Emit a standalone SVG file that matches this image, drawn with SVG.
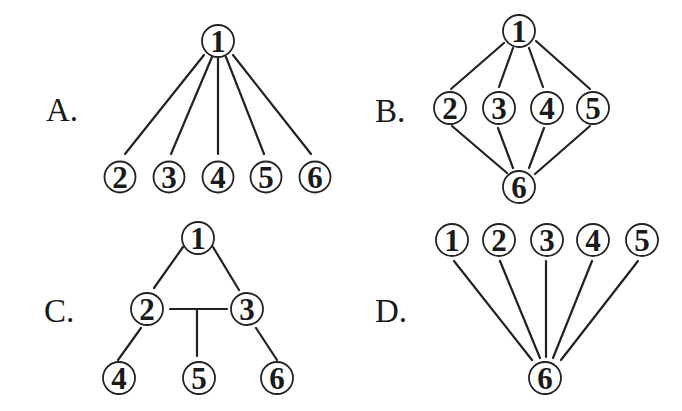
<svg xmlns="http://www.w3.org/2000/svg" width="682" height="411" viewBox="0 0 682 411">
<style>
.n circle{fill:#fff;stroke:#222;stroke-width:1.8}
.n text{font-family:"Liberation Serif","DejaVu Serif",serif;font-size:31px;font-weight:bold;fill:#1a1a1a;text-anchor:middle}
.lbl{font-family:"Liberation Serif","DejaVu Serif",serif;font-size:33px;fill:#1a1a1a}
.e line{stroke:#222;stroke-width:2.2;stroke-linecap:round}
</style>
<rect width="682" height="411" fill="#fff"/>
<text class="lbl" x="46" y="121">A.</text>
<text class="lbl" x="375" y="122">B.</text>
<text class="lbl" x="44" y="322">C.</text>
<text class="lbl" x="375" y="322">D.</text>

<g id="edges" class="e">
<!-- A -->
<line x1="204" y1="55" x2="125" y2="154"/>
<line x1="212" y1="57" x2="171" y2="154"/>
<line x1="218" y1="58" x2="218" y2="154"/>
<line x1="226" y1="57" x2="264" y2="154"/>
<line x1="233" y1="55" x2="311" y2="154"/>
<!-- B -->
<line x1="504" y1="43" x2="451" y2="89"/>
<line x1="513" y1="48" x2="499" y2="87"/>
<line x1="529" y1="48" x2="543" y2="87"/>
<line x1="536" y1="41" x2="590" y2="89"/>
<line x1="452" y1="126" x2="507" y2="173"/>
<line x1="498" y1="128" x2="513" y2="168"/>
<line x1="544" y1="128" x2="529" y2="168"/>
<line x1="590" y1="126" x2="535" y2="174"/>
<!-- C -->
<line x1="183" y1="247" x2="154" y2="288"/>
<line x1="213" y1="247" x2="239" y2="290"/>
<line x1="170" y1="309" x2="227" y2="309"/>
<line x1="197" y1="309" x2="197" y2="356"/>
<line x1="141" y1="328" x2="118" y2="360"/>
<line x1="256" y1="328" x2="277" y2="360"/>
<!-- D -->
<line x1="454" y1="261" x2="532" y2="360"/>
<line x1="500" y1="261" x2="540" y2="358"/>
<line x1="546" y1="261" x2="546" y2="357"/>
<line x1="592" y1="261" x2="553" y2="358"/>
<line x1="638" y1="261" x2="561" y2="360"/>
</g>

<!-- Panel A -->
<g id="A1" class="n"><circle cx="218" cy="41" r="16"/><text x="218" y="52">1</text></g>
<g id="A2" class="n"><circle cx="120" cy="177" r="15.5"/><text x="120" y="188">2</text></g>
<g id="A3" class="n"><circle cx="169" cy="177" r="15.5"/><text x="169" y="188">3</text></g>
<g id="A4" class="n"><circle cx="218" cy="177" r="15.5"/><text x="218" y="188">4</text></g>
<g id="A5" class="n"><circle cx="266" cy="177" r="15.5"/><text x="266" y="188">5</text></g>
<g id="A6" class="n"><circle cx="315" cy="177" r="15.5"/><text x="315" y="188">6</text></g>

<!-- Panel B -->
<g id="B1" class="n"><circle cx="519" cy="31" r="16"/><text x="519" y="42">1</text></g>
<g id="B2" class="n"><circle cx="450" cy="108" r="16"/><text x="450" y="119">2</text></g>
<g id="B3" class="n"><circle cx="499" cy="108" r="16"/><text x="499" y="119">3</text></g>
<g id="B4" class="n"><circle cx="547" cy="108" r="16"/><text x="547" y="119">4</text></g>
<g id="B5" class="n"><circle cx="593" cy="108" r="16"/><text x="593" y="119">5</text></g>
<g id="B6" class="n"><circle cx="519" cy="187" r="16"/><text x="519" y="198">6</text></g>

<!-- Panel C -->
<g id="C1" class="n"><circle cx="198" cy="238" r="16"/><text x="198" y="249">1</text></g>
<g id="C2" class="n"><circle cx="147" cy="309" r="16"/><text x="147" y="320">2</text></g>
<g id="C3" class="n"><circle cx="247" cy="309" r="16"/><text x="247" y="320">3</text></g>
<g id="C4" class="n"><circle cx="119" cy="378" r="16"/><text x="119" y="389">4</text></g>
<g id="C5" class="n"><circle cx="199" cy="378" r="16"/><text x="199" y="389">5</text></g>
<g id="C6" class="n"><circle cx="277" cy="378" r="16"/><text x="277" y="389">6</text></g>

<!-- Panel D -->
<g id="D1" class="n"><circle cx="452" cy="240" r="16"/><text x="452" y="251">1</text></g>
<g id="D2" class="n"><circle cx="499" cy="240" r="16"/><text x="499" y="251">2</text></g>
<g id="D3" class="n"><circle cx="547" cy="240" r="16"/><text x="547" y="251">3</text></g>
<g id="D4" class="n"><circle cx="593" cy="240" r="16"/><text x="593" y="251">4</text></g>
<g id="D5" class="n"><circle cx="642" cy="240" r="16"/><text x="642" y="251">5</text></g>
<g id="D6" class="n"><circle cx="545" cy="378" r="16"/><text x="545" y="389">6</text></g>
</svg>
